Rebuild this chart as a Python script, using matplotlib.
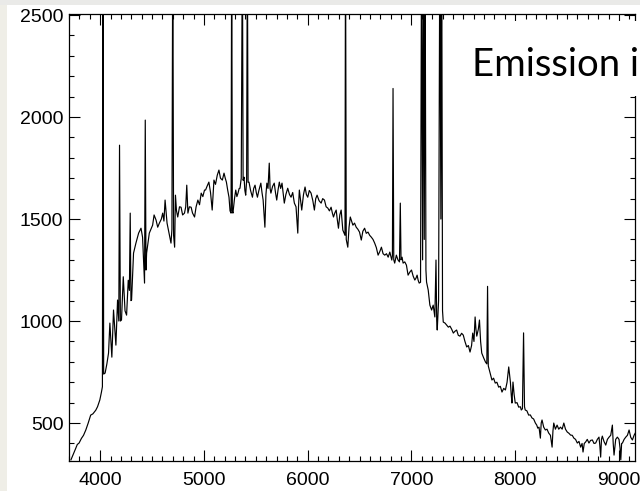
import numpy as np
import matplotlib
matplotlib.use('Agg')
import matplotlib.pyplot as plt
from matplotlib.patches import Rectangle
from matplotlib.ticker import MultipleLocator

# --- Spectrum (wavelength in Angstrom, flux in counts) ---
wavelength = [
    3719, 3740, 3760, 3780, 3797, 3820, 3840, 3862, 3885, 3909,
    3930, 3958, 3975, 3997, 4012, 4022, 4028, 4034, 4048, 4065,
    4081, 4094, 4113, 4129, 4152, 4168, 4180, 4187, 4195, 4206,
    4223, 4240, 4255, 4271, 4282, 4290, 4297, 4303, 4322, 4345,
    4371, 4394, 4409, 4428, 4435, 4442, 4448, 4474, 4490, 4506,
    4520, 4539, 4555, 4571, 4590, 4603, 4615, 4626, 4645, 4668,
    4683, 4692, 4700, 4708, 4718, 4726, 4736, 4748, 4765, 4780,
    4795, 4813, 4825, 4835, 4846, 4860, 4877, 4890, 4910, 4925,
    4942, 4958, 4974, 4990, 5006, 5016, 5030, 5048, 5064, 5080,
    5097, 5112, 5129, 5145, 5160, 5178, 5194, 5206, 5217, 5230,
    5242, 5252, 5262, 5268, 5274, 5280, 5295, 5307, 5318, 5329,
    5340, 5348, 5360, 5371, 5378, 5387, 5395, 5403, 5412, 5419,
    5426, 5435, 5450, 5468, 5480, 5493, 5505, 5516, 5530, 5549,
    5560, 5571, 5588, 5598, 5607, 5618, 5630, 5638, 5646, 5662,
    5678, 5690, 5702, 5714, 5727, 5740, 5753, 5765, 5775, 5790,
    5808, 5825, 5840, 5856, 5872, 5888, 5905, 5912, 5920, 5932,
    5943, 5960, 5975, 5988, 6001, 6016, 6033, 6050, 6065, 6078,
    6091, 6110, 6130, 6145, 6162, 6178, 6194, 6210, 6226, 6238,
    6249, 6262, 6275, 6285, 6297, 6310, 6323, 6333, 6339, 6352,
    6360, 6365, 6372, 6387, 6399, 6411, 6424, 6436, 6452, 6468,
    6484, 6500, 6517, 6532, 6549, 6565, 6582, 6598, 6614, 6630,
    6646, 6662, 6679, 6695, 6711, 6727, 6743, 6760, 6776, 6792,
    6811, 6817, 6823, 6830, 6839, 6855, 6870, 6885, 6893, 6900,
    6910, 6920, 6936, 6952, 6968, 6985, 7001, 7017, 7033, 7044,
    7055, 7065, 7075, 7088, 7098, 7108, 7116, 7124, 7132, 7140,
    7146, 7162, 7178, 7195, 7210, 7226, 7237, 7244, 7249, 7262,
    7274, 7284, 7292, 7300, 7307, 7324, 7340, 7356, 7372, 7388,
    7404, 7420, 7436, 7452, 7468, 7484, 7500, 7516, 7533, 7549,
    7565, 7580, 7591, 7603, 7614, 7622, 7630, 7645, 7656, 7667,
    7678, 7696, 7714, 7727, 7734, 7741, 7759, 7776, 7792, 7808,
    7824, 7841, 7857, 7873, 7890, 7906, 7922, 7938, 7946, 7954,
    7962, 7969, 7979, 7990, 8001, 8018, 8034, 8050, 8059, 8070,
    8081, 8090, 8097, 8113, 8130, 8146, 8162, 8178, 8195, 8208,
    8218, 8230, 8243, 8251, 8259, 8275, 8291, 8307, 8323, 8340,
    8356, 8364, 8372, 8388, 8404, 8420, 8437, 8453, 8469, 8485,
    8502, 8518, 8534, 8550, 8566, 8582, 8599, 8615, 8631, 8645,
    8654, 8666, 8679, 8695, 8711, 8727, 8744, 8760, 8776, 8792,
    8808, 8816, 8824, 8832, 8840, 8856, 8873, 8889, 8905, 8921,
    8937, 8945, 8953, 8969, 8985, 9001, 9010, 9018, 9026, 9034,
    9050, 9066, 9082, 9098, 9114, 9130, 9146, 9163,
]
flux = [
    320, 345, 370, 395, 402, 425, 440, 466, 500, 539,
    545, 563, 580, 613, 650, 678, 2900, 740, 745, 790,
    843, 990, 823, 1054, 882, 1103, 1000, 1862, 1000, 1005,
    1217, 1050, 1029, 1200, 1150, 1529, 1100, 1103, 1333, 1382,
    1431, 1455, 1411, 1186, 1985, 1250, 1333, 1431, 1450, 1470,
    1520, 1495, 1460, 1480, 1500, 1529, 1490, 1593, 1480, 1421,
    1382, 1450, 2900, 1420, 1362, 1617, 1540, 1510, 1560, 1558,
    1520, 1529, 1560, 1666, 1529, 1560, 1558, 1530, 1510, 1560,
    1593, 1570, 1627, 1610, 1642, 1642, 1660, 1681, 1630, 1544,
    1691, 1670, 1715, 1740, 1700, 1691, 1725, 1700, 1681, 1640,
    1607, 1540, 1529, 2900, 1540, 1529, 1600, 1642, 1610, 1627,
    1650, 1651, 1700, 2900, 1690, 1705, 1640, 1617, 1690, 2900,
    1680, 1681, 1640, 1607, 1650, 1666, 1630, 1607, 1640, 1676,
    1630, 1593, 1460, 1620, 1676, 1650, 1774, 1650, 1627, 1660,
    1676, 1630, 1593, 1640, 1681, 1650, 1676, 1620, 1578, 1620,
    1651, 1620, 1607, 1630, 1578, 1560, 1431, 1560, 1642, 1590,
    1544, 1620, 1657, 1620, 1607, 1640, 1627, 1590, 1544, 1600,
    1617, 1590, 1578, 1600, 1593, 1560, 1554, 1540, 1558, 1530,
    1510, 1530, 1544, 1500, 1455, 1520, 1544, 1480, 1446, 1430,
    1420, 2900, 1400, 1362, 1460, 1510, 1490, 1470, 1480, 1460,
    1450, 1436, 1397, 1440, 1455, 1430, 1436, 1420, 1411, 1400,
    1382, 1360, 1323, 1340, 1362, 1330, 1323, 1330, 1313, 1338,
    1299, 1320, 2140, 1300, 1284, 1323, 1300, 1290, 1578, 1300,
    1313, 1284, 1290, 1274, 1225, 1240, 1250, 1220, 1201, 1210,
    1225, 1200, 1186, 1190, 2900, 1300, 2900, 1400, 2900, 1250,
    1191, 1152, 1078, 1054, 1078, 1020, 1299, 1000, 956, 1100,
    2900, 1500, 2900, 1050, 995, 990, 980, 970, 975, 960,
    941, 950, 956, 930, 926, 940, 931, 900, 873, 880,
    848, 880, 941, 900, 1020, 960, 926, 960, 1005, 900,
    843, 820, 799, 790, 1170, 780, 745, 711, 720, 696,
    700, 676, 680, 652, 670, 662, 700, 775, 740, 701,
    640, 598, 701, 640, 598, 600, 578, 580, 564, 570,
    942, 580, 564, 560, 539, 540, 525, 520, 500, 490,
    475, 480, 426, 500, 515, 480, 466, 470, 451, 440,
    382, 460, 500, 470, 490, 470, 480, 470, 500, 470,
    456, 450, 441, 440, 426, 420, 402, 410, 382, 400,
    358, 400, 407, 420, 402, 415, 417, 400, 402, 420,
    431, 390, 333, 420, 436, 410, 392, 420, 431, 440,
    490, 400, 343, 420, 431, 420, 380, 320, 400, 402,
    420, 431, 440, 466, 430, 417, 440, 456,
]
assert len(wavelength) == len(flux)

x_ticks = [4000, 5000, 6000, 7000, 8000, 9000]
y_ticks = [500, 1000, 1500, 2000, 2500]
overlay_text = 'Emission i'

# --- Figure: slide background with the pasted white plot image ---
fig = plt.figure(figsize=(6.4, 4.91), dpi=100, facecolor='#EFEEE7')
fig.patches.append(Rectangle((0, 0.99), 1, 0.01, transform=fig.transFigure,
                             facecolor='#EAEAE8', edgecolor='none', zorder=-2))
fig.patches.append(Rectangle((7 / 640, 0), 1, (491 - 5) / 491,
                             transform=fig.transFigure,
                             facecolor='white', edgecolor='none', zorder=-1))

ax = fig.add_axes([69 / 640, 30 / 491, 566 / 640, 447 / 491])
ax.plot(wavelength, flux, color='black', linewidth=0.85)

ax.set_xlim(3700, 9155)
ax.set_ylim(314, 2505)
ax.set_xticks(x_ticks)
ax.set_yticks(y_ticks)
ax.xaxis.set_minor_locator(MultipleLocator(100))
ax.yaxis.set_minor_locator(MultipleLocator(100))

ax.tick_params(which='both', direction='in', top=True, right=True,
               width=0.8, colors='black')
ax.tick_params(which='major', length=8)
ax.tick_params(which='minor', length=3.6)
ax.tick_params(axis='x', pad=8)
ax.tick_params(axis='y', pad=4)
for lbl in ax.get_xticklabels() + ax.get_yticklabels():
    lbl.set_family('Liberation Sans')
    lbl.set_fontsize(14)
for sp in ax.spines.values():
    sp.set_linewidth(0.9)

# --- Slide text box that overlaps the plot ---
fig.patches.append(Rectangle((455 / 640, (491 - 96) / 491), 1,
                             75 / 491, transform=fig.transFigure,
                             facecolor='white', edgecolor='none', zorder=5))
fig.text(472 / 640, (491 - 76) / 491, overlay_text, fontsize=27.5,
         family='Lato', color='black', va='baseline', ha='left', zorder=6)

fig.savefig('out.png', dpi=100)
